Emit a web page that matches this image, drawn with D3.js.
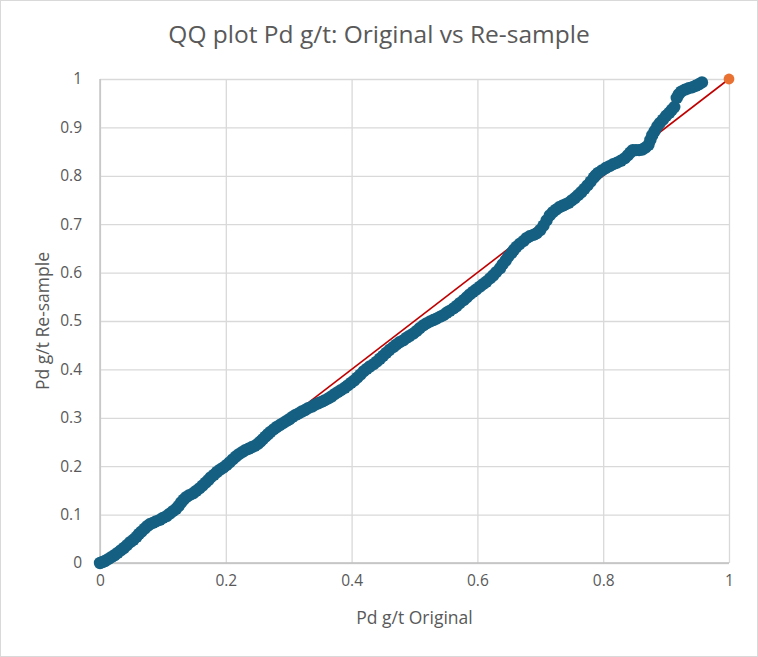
<!DOCTYPE html>
<html>
<head>
<meta charset="utf-8">
<script src="https://cdn.jsdelivr.net/npm/d3@7"></script>
<style>
    body { margin: 0; background: #ffffff; }
    text { font-family: "Open Sans", "Noto Sans", sans-serif; fill: #595959; }
</style>
</head>
<body>
<div id="chart"></div>
<script>

// Pd g/t quantiles, original samples (x) vs re-sampled (y)
const originalQ = [
    0.000, 0.004, 0.008, 0.013, 0.018, 0.023, 0.028, 0.033, 0.038, 0.043,
    0.048, 0.053, 0.058, 0.062, 0.066, 0.071, 0.075, 0.079, 0.084, 0.089,
    0.095, 0.100, 0.106, 0.111, 0.116, 0.121, 0.125, 0.129, 0.133, 0.137,
    0.142, 0.148, 0.153, 0.158, 0.163, 0.168, 0.172, 0.176, 0.181, 0.186,
    0.191, 0.196, 0.201, 0.206, 0.211, 0.216, 0.221, 0.226, 0.231, 0.236,
    0.241, 0.246, 0.251, 0.255, 0.259, 0.263, 0.267, 0.271, 0.276, 0.281,
    0.286, 0.291, 0.296, 0.301, 0.306, 0.311, 0.316, 0.321, 0.326, 0.331,
    0.337, 0.342, 0.347, 0.352, 0.357, 0.363, 0.368, 0.373, 0.378, 0.383,
    0.389, 0.394, 0.399, 0.404, 0.409, 0.414, 0.419, 0.424, 0.429, 0.435,
    0.440, 0.445, 0.450, 0.455, 0.460, 0.466, 0.471, 0.476, 0.482, 0.487,
    0.492, 0.498, 0.503, 0.508, 0.514, 0.519, 0.525, 0.530, 0.535, 0.541,
    0.546, 0.551, 0.556, 0.562, 0.567, 0.572, 0.578, 0.583, 0.588, 0.593,
    0.598, 0.604, 0.609, 0.614, 0.620, 0.625, 0.630, 0.636, 0.640, 0.645,
    0.649, 0.654, 0.658, 0.662, 0.667, 0.673, 0.678, 0.683, 0.689, 0.694,
    0.700, 0.705, 0.710, 0.715, 0.720, 0.725, 0.730, 0.735, 0.740, 0.745,
    0.750, 0.755, 0.760, 0.765, 0.770, 0.775, 0.780, 0.785, 0.788, 0.792,
    0.798, 0.804, 0.810, 0.816, 0.822, 0.828, 0.834, 0.839, 0.843, 0.847,
    0.852, 0.857, 0.862, 0.867, 0.872, 0.875, 0.878, 0.882, 0.886, 0.890,
    0.895, 0.900, 0.905, 0.909, 0.913, 0.917, 0.920, 0.924, 0.930, 0.936,
    0.942, 0.947, 0.952, 0.957
];

const resampleQ = [
    0.000, 0.002, 0.004, 0.008, 0.012, 0.016, 0.021, 0.026, 0.031, 0.037,
    0.043, 0.048, 0.054, 0.060, 0.065, 0.071, 0.076, 0.080, 0.083, 0.086,
    0.089, 0.093, 0.097, 0.102, 0.107, 0.112, 0.118, 0.125, 0.131, 0.136,
    0.140, 0.144, 0.149, 0.154, 0.160, 0.166, 0.171, 0.177, 0.182, 0.188,
    0.193, 0.197, 0.202, 0.208, 0.214, 0.220, 0.225, 0.229, 0.233, 0.236,
    0.239, 0.242, 0.246, 0.251, 0.256, 0.261, 0.266, 0.271, 0.276, 0.281,
    0.285, 0.289, 0.293, 0.297, 0.302, 0.306, 0.309, 0.313, 0.316, 0.320,
    0.323, 0.327, 0.330, 0.333, 0.336, 0.340, 0.344, 0.349, 0.353, 0.357,
    0.362, 0.367, 0.372, 0.377, 0.383, 0.389, 0.396, 0.401, 0.406, 0.411,
    0.416, 0.422, 0.428, 0.434, 0.440, 0.446, 0.451, 0.456, 0.460, 0.465,
    0.469, 0.474, 0.479, 0.485, 0.491, 0.495, 0.499, 0.502, 0.505, 0.509,
    0.512, 0.517, 0.521, 0.526, 0.531, 0.537, 0.543, 0.549, 0.555, 0.560,
    0.565, 0.571, 0.576, 0.581, 0.588, 0.594, 0.601, 0.609, 0.617, 0.625,
    0.633, 0.640, 0.647, 0.653, 0.659, 0.665, 0.671, 0.675, 0.678, 0.681,
    0.688, 0.697, 0.708, 0.718, 0.725, 0.730, 0.735, 0.738, 0.741, 0.744,
    0.749, 0.754, 0.760, 0.766, 0.773, 0.780, 0.788, 0.796, 0.801, 0.806,
    0.811, 0.816, 0.820, 0.824, 0.827, 0.831, 0.836, 0.842, 0.848, 0.853,
    0.853, 0.853, 0.854, 0.858, 0.864, 0.874, 0.884, 0.893, 0.902, 0.909,
    0.916, 0.924, 0.930, 0.936, 0.942, 0.961, 0.968, 0.974, 0.978, 0.981,
    0.983, 0.986, 0.989, 0.993
];

// 1:1 reference line and the max point
const refLineX = [0, 1];
const refLineY = [0, 1];
const maxPointX = [1];
const maxPointY = [1];

const xTicks = [0, 0.2, 0.4, 0.6, 0.8, 1];
const yTicks = [0, 0.1, 0.2, 0.3, 0.4, 0.5, 0.6, 0.7, 0.8, 0.9, 1];

const chartTitle = "QQ plot Pd g/t: Original vs Re-sample";
const xTitle = "Pd g/t Original";
const yTitle = "Pd g/t Re-sample";

const width = 758, height = 657;
const plot = { left: 100, right: 729, top: 79, bottom: 563 };

const svg = d3.select("#chart").append("svg")
    .attr("width", width)
    .attr("height", height);

svg.append("rect")
    .attr("x", 0.5).attr("y", 0.5)
    .attr("width", width - 1).attr("height", height - 1)
    .attr("fill", "#ffffff")
    .attr("stroke", "#d9d9d9");

const x = d3.scaleLinear().domain([0, 1]).range([plot.left, plot.right]);
const y = d3.scaleLinear().domain([0, 1]).range([plot.bottom, plot.top]);

// gridlines
svg.append("g")
    .attr("transform", `translate(0,${plot.bottom})`)
    .call(d3.axisBottom(x).tickValues(xTicks).tickSize(-(plot.bottom - plot.top)).tickFormat(""))
    .call(g => g.select(".domain").remove())
    .call(g => g.selectAll("line").attr("stroke", "#d9d9d9").attr("stroke-width", 1.3));

svg.append("g")
    .attr("transform", `translate(${plot.left},0)`)
    .call(d3.axisLeft(y).tickValues(yTicks).tickSize(-(plot.right - plot.left)).tickFormat(""))
    .call(g => g.select(".domain").remove())
    .call(g => g.selectAll("line").attr("stroke", "#d9d9d9").attr("stroke-width", 1.3));

// axis lines
svg.append("line")
    .attr("x1", x(0)).attr("x2", x(1))
    .attr("y1", y(0)).attr("y2", y(0))
    .attr("stroke", "#bfbfbf").attr("stroke-width", 1.3);
svg.append("line")
    .attr("x1", x(0)).attr("x2", x(0))
    .attr("y1", y(0)).attr("y2", y(1))
    .attr("stroke", "#bfbfbf").attr("stroke-width", 1.3);

// tick labels
const xAxis = svg.append("g")
    .attr("transform", `translate(0,${plot.bottom})`)
    .call(d3.axisBottom(x).tickValues(xTicks).tickSize(0).tickPadding(12).tickFormat(d3.format("")));
xAxis.select(".domain").remove();
xAxis.selectAll("text")
    .attr("font-size", 15.5)
    .attr("font-family", null)
    .style("fill", "#595959");

const yAxis = svg.append("g")
    .attr("transform", `translate(${plot.left},0)`)
    .call(d3.axisLeft(y).tickValues(yTicks).tickSize(0).tickPadding(18).tickFormat(d3.format("")));
yAxis.select(".domain").remove();
yAxis.selectAll("text")
    .attr("font-size", 15.5)
    .attr("font-family", null)
    .style("fill", "#595959");

// 1:1 line
const refData = refLineX.map((d, i) => [d, refLineY[i]]);
svg.append("path")
    .datum(refData)
    .attr("d", d3.line().x(d => x(d[0])).y(d => y(d[1])))
    .attr("fill", "none")
    .attr("stroke", "#c00000")
    .attr("stroke-width", 1.6);

// qq points
const qqData = originalQ.map((d, i) => [d, resampleQ[i]]);
svg.append("g")
    .selectAll("circle")
    .data(qqData)
    .join("circle")
    .attr("cx", d => x(d[0]))
    .attr("cy", d => y(d[1]))
    .attr("r", 6.2)
    .attr("fill", "#156082");

const maxData = maxPointX.map((d, i) => [d, maxPointY[i]]);
svg.append("g")
    .selectAll("circle")
    .data(maxData)
    .join("circle")
    .attr("cx", d => x(d[0]))
    .attr("cy", d => y(d[1]))
    .attr("r", 5.4)
    .attr("fill", "#e97132");

// titles
svg.append("text")
    .attr("x", width / 2)
    .attr("y", 43)
    .attr("text-anchor", "middle")
    .attr("font-size", 24.5)
    .text(chartTitle);

svg.append("text")
    .attr("x", (plot.left + plot.right) / 2)
    .attr("y", 624)
    .attr("text-anchor", "middle")
    .attr("font-size", 17.5)
    .text(xTitle);

svg.append("text")
    .attr("transform", `translate(49,${(plot.top + plot.bottom) / 2}) rotate(-90)`)
    .attr("text-anchor", "middle")
    .attr("font-size", 17.5)
    .text(yTitle);

</script>
</body>
</html>
